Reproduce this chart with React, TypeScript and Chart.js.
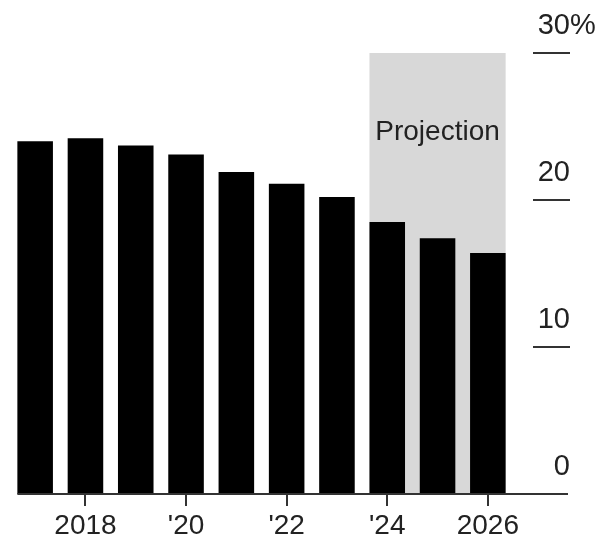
import React, { useEffect, useRef } from "react";
import { Chart, registerables } from "chart.js";

Chart.register(...registerables);

// Years shown as bars; the last three are projections
const years = ["2017", "2018", "2019", "2020", "2021", "2022", "2023", "2024", "2025", "2026"];
// Share, in percent
const shares = [24.0, 24.2, 23.7, 23.1, 21.9, 21.1, 20.2, 18.5, 17.4, 16.4];
// Labels printed under the x axis (blank = no tick)
const xTickLabels = ["", "2018", "", "'20", "", "'22", "", "'24", "", "2026"];
// Value axis ticks on the right; the unit hangs past the number column
const yTickValues = [0, 10, 20, 30];
const yTickLabels = ["0", "10", "20", "30"];
const yTopUnit = "%";
// First projected year
const projectionStart = "2024";
const projectionLabel = "Projection";

const FONT = "'Liberation Sans', Arial, Helvetica, sans-serif";
const TEXT = "#222222";
const RULE = "#333333";
const SHADE = "#d8d8d8";

const decorations = {
  id: "decorations",
  beforeDatasetsDraw(chart: any) {
    const { ctx } = chart;
    const y = chart.scales.y;
    const bars = chart.getDatasetMeta(0).data;
    const i0 = years.indexOf(projectionStart);
    const first = bars[i0];
    const last = bars[bars.length - 1];
    const left = first.x - first.width / 2;
    const right = last.x + last.width / 2;
    const top = y.getPixelForValue(30);
    const bottom = y.getPixelForValue(0);
    ctx.save();
    ctx.fillStyle = SHADE;
    ctx.fillRect(left, top, right - left, bottom - top);
    ctx.fillStyle = TEXT;
    ctx.font = `28px ${FONT}`;
    ctx.textAlign = "center";
    ctx.textBaseline = "alphabetic";
    ctx.fillText(projectionLabel, (left + right) / 2, y.getPixelForValue(24.07));
    ctx.restore();
  },
  afterDatasetsDraw(chart: any) {
    const { ctx } = chart;
    const y = chart.scales.y;
    const bars = chart.getDatasetMeta(0).data;
    const startX = bars[0].x - bars[0].width / 2;
    const endX = 568;
    ctx.save();
    ctx.strokeStyle = RULE;
    ctx.lineWidth = 2;
    // baseline
    const base = y.getPixelForValue(0);
    ctx.beginPath();
    ctx.moveTo(startX, base);
    ctx.lineTo(endX, base);
    ctx.stroke();
    // right-hand value ticks with labels above them
    ctx.fillStyle = TEXT;
    ctx.font = `29px ${FONT}`;
    ctx.textBaseline = "alphabetic";
    const col = 570;
    yTickValues.forEach((v, i) => {
      const py = y.getPixelForValue(v);
      if (v !== 0) {
        ctx.beginPath();
        ctx.moveTo(533, py);
        ctx.lineTo(570, py);
        ctx.stroke();
      }
      ctx.textAlign = "right";
      ctx.fillText(yTickLabels[i], col, py - 19);
      if (i === yTickValues.length - 1) {
        ctx.textAlign = "left";
        ctx.fillText(yTopUnit, col, py - 19);
      }
    });
    ctx.restore();
  },
};

export default function App() {
  const canvasRef = useRef<HTMLCanvasElement | null>(null);

  useEffect(() => {
    document.body.style.margin = "0";
    const canvas = canvasRef.current;
    if (!canvas) return;
    const chart = new Chart(canvas, {
      type: "bar",
      data: {
        labels: years,
        datasets: [
          {
            data: shares,
            backgroundColor: "#000000",
            categoryPercentage: 1,
            barPercentage: 0.707,
          },
        ],
      },
      options: {
        animation: false,
        responsive: false,
        maintainAspectRatio: false,
        layout: { padding: { top: 53, left: 10, right: 87, bottom: 0 } },
        plugins: { legend: { display: false }, tooltip: { enabled: false } },
        scales: {
          x: {
            offset: true,
            border: { display: false },
            grid: {
              display: true,
              drawOnChartArea: false,
              drawTicks: true,
              tickLength: 12,
              offset: false,
              lineWidth: 2,
              color: (c: any) => (xTickLabels[c.index] ? RULE : "rgba(0,0,0,0)"),
            },
            ticks: {
              autoSkip: false,
              maxRotation: 0,
              padding: 3,
              color: TEXT,
              font: { family: FONT, size: 28 },
              callback: (_v: any, i: number) => xTickLabels[i],
            },
            afterFit: (axis: any) => {
              axis.height = 48;
            },
          },
          y: {
            display: false,
            min: 0,
            max: 30,
          },
        },
      },
      plugins: [decorations],
    });
    return () => chart.destroy();
  }, []);

  return (
    <div style={{ position: "absolute", left: 0, top: 0, width: 600, height: 542, background: "#fff" }}>
      <canvas ref={canvasRef} width={600} height={542} />
    </div>
  );
}
